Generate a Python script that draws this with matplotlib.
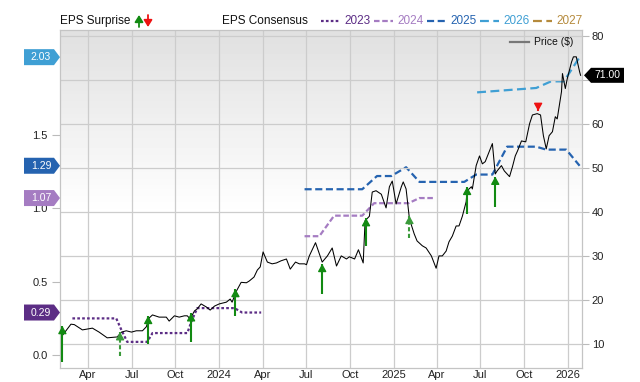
import matplotlib
matplotlib.use("Agg")
import matplotlib.pyplot as plt
import matplotlib.transforms as mtransforms
from matplotlib.patches import Polygon
from matplotlib.lines import Line2D
import numpy as np
import pandas as pd

plt.rcParams['font.family'] = ['Liberation Sans', 'DejaVu Sans']

# share price ($)
price_dates = ["2023-02-05", "2023-02-24", "2023-03-03", "2023-03-20", "2023-04-10", "2023-04-24",
               "2023-05-11", "2023-06-01", "2023-06-10", "2023-06-20", "2023-07-01", "2023-07-11",
               "2023-07-24", "2023-08-01", "2023-08-07", "2023-08-14", "2023-08-28", "2023-09-12",
               "2023-09-18", "2023-09-29", "2023-10-09", "2023-10-20", "2023-10-26", "2023-11-01",
               "2023-11-10", "2023-11-16", "2023-11-24", "2023-12-05", "2023-12-13", "2023-12-22",
               "2024-01-01", "2024-01-16", "2024-01-24", "2024-01-28", "2024-02-06", "2024-02-16",
               "2024-02-27", "2024-03-04", "2024-03-14", "2024-03-21", "2024-03-27", "2024-04-02",
               "2024-04-11", "2024-04-21", "2024-04-30", "2024-05-10", "2024-05-21", "2024-05-29",
               "2024-06-09", "2024-06-17", "2024-06-28", "2024-07-02", "2024-07-08", "2024-07-21",
               "2024-08-04", "2024-08-15", "2024-08-25", "2024-09-03", "2024-09-13", "2024-09-24",
               "2024-09-30", "2024-10-11", "2024-10-19", "2024-10-29", "2024-11-02", "2024-11-11",
               "2024-11-17", "2024-11-25", "2024-12-06", "2024-12-16", "2024-12-23", "2024-12-29",
               "2025-01-06", "2025-01-17", "2025-01-21", "2025-01-27", "2025-02-03", "2025-02-13",
               "2025-02-19", "2025-03-02", "2025-03-10", "2025-03-21", "2025-03-31", "2025-04-06",
               "2025-04-13", "2025-04-21", "2025-04-27", "2025-05-04", "2025-05-12", "2025-05-18",
               "2025-05-25", "2025-06-02", "2025-06-04", "2025-06-13", "2025-06-15", "2025-06-23",
               "2025-06-30", "2025-07-06", "2025-07-12", "2025-07-21", "2025-07-27", "2025-08-02",
               "2025-08-06", "2025-08-15", "2025-08-21", "2025-09-01", "2025-09-07", "2025-09-13",
               "2025-09-18", "2025-09-26", "2025-10-05", "2025-10-13", "2025-10-19", "2025-10-29",
               "2025-11-05", "2025-11-11", "2025-11-17", "2025-11-23", "2025-11-30", "2025-12-06",
               "2025-12-10", "2025-12-19", "2025-12-21", "2025-12-27", "2025-12-31", "2026-01-09",
               "2026-01-13", "2026-01-19", "2026-01-26", "2026-01-28"]
price_values = [11.8, 14.5, 14.4, 13.2, 13.6, 12.7,
                11.4, 11.6, 12.7, 13.0, 12.7, 13.0,
                13.0, 13.9, 15.9, 16.6, 16.1, 16.1,
                15.2, 16.4, 16.1, 16.4, 16.4, 15.7,
                17.5, 18.0, 19.1, 18.4, 17.7, 18.6,
                19.1, 19.5, 20.2, 19.5, 22.0, 24.0,
                23.9, 24.3, 25.2, 26.8, 27.5, 30.9,
                28.6, 28.2, 28.4, 28.9, 29.3, 27.0,
                28.6, 28.2, 28.2, 28.0, 30.0, 33.0,
                28.6, 30.0, 31.8, 27.7, 30.0, 29.3,
                29.8, 29.3, 31.4, 28.4, 38.0, 39.0,
                44.5, 44.8, 44.0, 40.9, 45.7, 47.0,
                41.8, 45.7, 46.8, 45.2, 38.4, 35.0,
                33.4, 32.3, 31.8, 30.0, 27.2, 30.0,
                30.0, 31.1, 33.2, 34.5, 36.8, 36.8,
                39.0, 42.3, 44.8, 45.7, 45.2, 50.5,
                52.7, 50.9, 51.4, 53.9, 55.5, 48.6,
                49.3, 50.5, 49.3, 48.0, 50.2, 52.7,
                53.9, 56.1, 55.9, 60.0, 62.0, 62.3,
                62.0, 57.3, 54.3, 57.3, 58.2, 61.6,
                61.1, 67.3, 71.4, 68.0, 70.2, 74.0,
                75.2, 75.2, 71.8, 71.0]

# EPS consensus by fiscal year
eps_2023_dates = ["2023-02-27", "2023-05-30", "2023-06-10", "2023-06-22", "2023-08-03", "2023-08-14",
                  "2023-10-26", "2023-11-05", "2023-11-16", "2024-02-02", "2024-02-18", "2024-03-29"]
eps_2023 = [0.25, 0.25, 0.17, 0.09, 0.09, 0.15, 0.15, 0.24, 0.32, 0.32, 0.29, 0.29]

eps_2024_dates = ["2024-06-28", "2024-07-29", "2024-08-29", "2024-10-27", "2024-11-21",
                  "2025-02-01", "2025-02-24", "2025-03-27"]
eps_2024 = [0.81, 0.81, 0.95, 0.95, 1.035, 1.035, 1.07, 1.07]

eps_2025_dates = ["2024-06-28", "2024-10-27", "2024-11-27", "2024-12-27", "2025-01-27", "2025-02-24",
                  "2025-05-29", "2025-06-23", "2025-07-27", "2025-08-27", "2025-10-27", "2025-11-17",
                  "2025-12-29", "2026-01-26"]
eps_2025 = [1.13, 1.13, 1.22, 1.22, 1.28, 1.18, 1.18, 1.23, 1.23, 1.42, 1.42, 1.40, 1.40, 1.29]

eps_2026_dates = ["2025-06-25", "2025-10-27", "2025-11-27", "2025-12-24", "2026-01-26"]
eps_2026 = [1.79, 1.82, 1.865, 1.865, 2.03]

# EPS surprises: report date, arrow tip / tail on price scale
surprise_dates = ["2023-02-06", "2023-06-07", "2023-08-05", "2023-11-03", "2024-02-04",
                  "2024-08-04", "2024-11-04", "2025-02-03", "2025-06-04", "2025-08-02", "2025-10-31"]
surprise_tip = [14.1, 12.7, 16.4, 17.0, 22.5, 28.2, 38.6, 39.1, 45.7, 48.0, 62.9]
surprise_tail = [5.9, 7.3, 10.0, 10.5, 16.4, 21.4, 32.3, 34.1, 39.5, 41.1, 64.6]
surprise_beat = [True, True, True, True, True, True, True, True, True, True, False]
surprise_dashed = [False, True, False, False, False, False, False, True, False, False, False]

years = ["2023", "2024", "2025", "2026", "2027"]
year_colors = ["#5c2d85", "#a57cc2", "#2563b0", "#3f9fd4", "#b58a3c"]
year_styles = [(0, (1.2, 1.0)), (0, (2.5, 1.2)), (0, (3.2, 1.6)), (0, (4.0, 2.0)), (0, (4.0, 2.0))]

last_eps = [0.29, 1.07, 1.29, 2.03]
last_eps_colors = ["#5c2d85", "#a57cc2", "#2563b0", "#3f9fd4"]
last_price = 71.00

tick_dates = ["2023-04-01", "2023-07-01", "2023-10-01", "2024-01-01", "2024-04-01", "2024-07-01",
              "2024-10-01", "2025-01-01", "2025-04-01", "2025-07-01", "2025-10-01", "2026-01-01"]
tick_labels = ["Apr", "Jul", "Oct", "2024", "Apr", "Jul", "Oct", "2025", "Apr", "Jul", "Oct", "2026"]
price_ticks = [10, 20, 30, 40, 50, 60, 70, 80]
price_tick_labels = ["10", "20", "30", "40", "50", "60", "", "80"]  # 70 sits under the price tag

W, H = 640, 382
fig = plt.figure(figsize=(6.4, 3.82), dpi=100)
ax = fig.add_axes([60 / W, 1 - 368 / H, 522 / W, 338 / H])
axp = ax.twinx()

# background gradient
grad = np.concatenate([np.linspace(0.88, 1.0, 55), np.ones(45)])[:, None]
ax.imshow(grad, cmap="gray", vmin=0, vmax=1, aspect="auto", extent=[0, 1, 0, 1],
          transform=ax.transAxes, zorder=0, origin="upper")

d = pd.to_datetime
ax.plot(d(eps_2023_dates), eps_2023, color=year_colors[0], lw=1.6, ls=year_styles[0], zorder=2)
ax.plot(d(eps_2024_dates), eps_2024, color=year_colors[1], lw=1.6, ls=year_styles[1], zorder=2)
ax.plot(d(eps_2025_dates), eps_2025, color=year_colors[2], lw=1.6, ls=year_styles[2], zorder=2)
ax.plot(d(eps_2026_dates), eps_2026, color=year_colors[3], lw=1.6, ls=year_styles[3], zorder=2)

axp.plot(d(price_dates), price_values, color="black", lw=0.75, zorder=3)

for sd, tip, tail, beat, dashed in zip(d(surprise_dates), surprise_tip, surprise_tail,
                                       surprise_beat, surprise_dashed):
    col = ("#3a9a3a" if dashed else "#128a12") if beat else "#ee1111"
    axp.plot([sd, sd], [tail, tip], color=col, lw=1.5, ls=(0, (2, 1.2)) if dashed else "-",
             solid_capstyle="butt", zorder=4)
    axp.annotate("", xy=(sd, tip), xytext=(0, -4.5 if beat else 4.5), textcoords="offset points",
                 arrowprops=dict(arrowstyle="-|>,head_length=0.45,head_width=0.25",
                                 color=col, lw=1.0, shrinkA=0, shrinkB=0), zorder=5)

ax.set_xlim(d("2023-02-01"), d("2026-01-31"))
ax.set_ylim(-0.088, 2.215)
axp.set_ylim(4.55, 81.29)

ax.set_xticks(d(tick_dates))
ax.set_xticklabels(tick_labels)
ax.set_yticks([0.0, 0.5, 1.0, 1.5])
ax.set_yticklabels(["0.0", "0.5", "1.0", "1.5"])
axp.set_yticks(price_ticks)
axp.set_yticklabels(price_tick_labels)

ax.grid(axis="x", color="#cccccc", lw=0.9)
axp.grid(axis="y", color="#cccccc", lw=0.9)
axp.set_axisbelow(True)
ax.set_axisbelow(True)

for a in (ax, axp):
    for s in a.spines.values():
        s.set_color("#c4c4c4")
ax.tick_params(axis="x", length=0, labelsize=8, pad=1.5, colors="#222222")
ax.tick_params(axis="y", length=6, width=0.8, color="#bbbbbb", labelsize=8, pad=3, labelcolor="#222222")
axp.tick_params(axis="y", length=5, width=0.8, color="#bbbbbb", labelsize=8, pad=2, labelcolor="#222222")


def tag(yval, text, color, base_ax, left=True):
    # pentagon label pinned to an axis edge at a data value
    x0 = 0.0 if left else 1.0
    tr = fig.dpi_scale_trans + mtransforms.ScaledTranslation(
        x0, yval, base_ax.get_yaxis_transform())
    p = 1 / 100
    if left:
        pts = [(-36, -8), (-6, -8), (0, 0), (-6, 8), (-36, 8)]
        tx = -19
    else:
        pts = [(2, 0), (9, -7.5), (42, -7.5), (42, 7.5), (9, 7.5)]
        tx = 25
    poly = Polygon([(a * p, b * p) for a, b in pts], closed=True, transform=tr,
                   facecolor=color, edgecolor="none", clip_on=False, zorder=10)
    fig.add_artist(poly)
    fig.text(tx * p, 0, text, transform=tr, color="white", fontsize=7.5,
             ha="center", va="center", zorder=11)


for v, c in zip(last_eps, last_eps_colors):
    tag(v, f"{v:.2f}", c, ax, left=True)
tag(last_price, f"{last_price:.2f}", "black", axp, left=False)


# top legend row
def fx(px):
    return px / W


def fy(py):
    return 1 - py / H


fig.text(fx(60), fy(21), "EPS Surprise", fontsize=8.5, va="center", color="#111111")
ax.annotate("", xy=(139, H - 15), xytext=(139, H - 27), xycoords="figure pixels",
            textcoords="figure pixels", annotation_clip=False,
            arrowprops=dict(arrowstyle="-|>,head_length=0.4,head_width=0.25", color="#128a12",
                            lw=1.3, shrinkA=0, shrinkB=0))
ax.annotate("", xy=(148, H - 27), xytext=(148, H - 15), xycoords="figure pixels",
            textcoords="figure pixels", annotation_clip=False,
            arrowprops=dict(arrowstyle="-|>,head_length=0.4,head_width=0.25", color="#ee1111",
                            lw=1.3, shrinkA=0, shrinkB=0))
fig.text(fx(222), fy(21), "EPS Consensus", fontsize=8.5, va="center", color="#111111")

leg_x = [321, 374, 427, 480, 533]
for lx, yr, c, ls in zip(leg_x, years, year_colors, year_styles):
    fig.add_artist(Line2D([fx(lx), fx(lx + 19)], [fy(21), fy(21)], color=c, lw=1.6, ls=ls,
                          transform=fig.transFigure))
    fig.text(fx(lx + 23), fy(21), yr, fontsize=8.5, va="center", color=c)

fig.add_artist(Line2D([fx(510), fx(529)], [fy(42), fy(42)], color="#777777", lw=1.6,
                      transform=fig.transFigure))
fig.text(fx(534), fy(42), "Price ($)", fontsize=7.5, va="center", color="#111111")

fig.savefig("out.png", dpi=100)
